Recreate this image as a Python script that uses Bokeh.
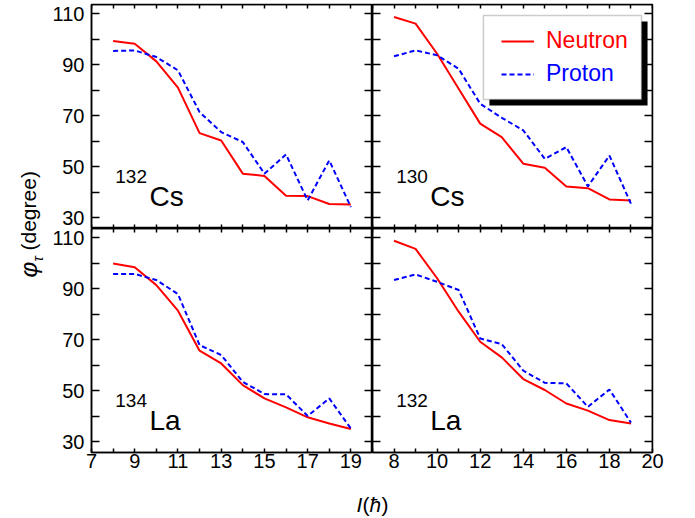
import math
from bokeh.plotting import figure
from bokeh.models import (Range1d, LinearAxis, FixedTicker, Label, Legend, LegendItem,
                          BoxAnnotation, CustomJSTickFormatter)
from bokeh.layouts import row, column
from bokeh.embed import file_html
from bokeh.resources import INLINE

# ---------------- data ----------------
spin = [8, 9, 10, 11, 12, 13, 14, 15, 16, 17, 18, 19]

cs132_neutron = [99.3, 98.2, 91.3, 81.0, 63.2, 60.3, 47.3, 46.4, 38.6, 38.5, 35.4, 35.2]
cs132_proton = [95.4, 95.6, 93.0, 87.8, 71.4, 63.6, 59.7, 47.3, 54.8, 36.8, 52.5, 34.2]

cs130_neutron = [108.7, 106.1, 94.3, 80.6, 66.9, 61.6, 51.2, 49.6, 42.3, 41.6, 37.2, 36.8]
cs130_proton = [93.3, 95.6, 93.7, 88.4, 74.7, 69.2, 64.3, 53.1, 57.7, 42.3, 54.4, 35.5]

la134_neutron = [99.9, 98.4, 91.4, 81.4, 65.7, 60.7, 52.2, 47.0, 43.5, 39.6, 37.2, 35.0]
la134_proton = [95.8, 95.8, 93.4, 87.9, 67.9, 64.0, 53.5, 48.7, 48.6, 40.1, 47.0, 35.2]

la132_neutron = [108.8, 105.6, 94.1, 81.0, 69.2, 63.1, 54.6, 50.3, 45.0, 42.2, 38.5, 37.2]
la132_proton = [93.4, 95.6, 92.7, 89.5, 70.5, 68.3, 57.9, 53.1, 52.9, 43.7, 50.5, 37.5]

y_ticks = [30, 50, 70, 90, 110]
y_minor = [40, 60, 80, 100]
x_ticks_left = [7, 9, 11, 13, 15, 17, 19]
x_minor_left = [8, 10, 12, 14, 16, 18, 20]
x_ticks_right = [8, 10, 12, 14, 16, 18, 20]
x_minor_right = [7, 9, 11, 13, 15, 17, 19]

series_names = ["Neutron", "Proton"]

# ---------------- style ----------------
FONT = "Liberation Sans"
XR = (7, 20)
YR = (25.8, 113.6)
RED = "#ff0000"
BLUE = "#0000ff"


def add_axis(p, side, loc, ticks, minor, tick_len, labelled, standoff=0):
    ax = LinearAxis(ticker=FixedTicker(ticks=ticks, minor_ticks=minor),
                    major_tick_in=tick_len, major_tick_out=0,
                    minor_tick_in=tick_len, minor_tick_out=0,
                    axis_line_color="black", axis_line_width=1.5,
                    major_tick_line_color="black", minor_tick_line_color="black",
                    major_tick_line_width=1.5, minor_tick_line_width=1.5,
                    major_label_text_font=FONT, major_label_text_font_size="20px",
                    major_label_text_color="black", major_label_standoff=standoff)
    if not labelled:
        ax.fixed_location = loc
        ax.formatter = CustomJSTickFormatter(code="return ''")
    p.add_layout(ax, side)


def make_panel(width, height, bl, br, bt, bb, left_col, bottom_row,
               neutron, proton, mass, sym):
    p = figure(width=width, height=height, x_range=Range1d(*XR), y_range=Range1d(*YR),
               x_axis_type=None, y_axis_type=None, toolbar_location=None,
               output_backend="svg",
               min_border_left=bl, min_border_right=br, min_border_top=bt,
               min_border_bottom=bb,
               outline_line_color="black", outline_line_width=1.5,
               background_fill_color="white", border_fill_color="white")
    xt, xm = (x_ticks_left, x_minor_left) if left_col else (x_ticks_right, x_minor_right)
    add_axis(p, "left", XR[0], y_ticks, y_minor, 8, left_col, standoff=7)
    add_axis(p, "right", XR[1], y_ticks, y_minor, 8, False)
    add_axis(p, "below", YR[0], xt, xm, 4, bottom_row, standoff=1)
    add_axis(p, "above", YR[1], xt, xm, 4, False)

    rn = p.line(spin, neutron, line_color=RED, line_width=2)
    rp = p.line(spin, proton, line_color=BLUE, line_width=2, line_dash="5 3")

    p.add_layout(Label(x=8.1, y=46.1, text=mass, text_font=FONT, text_font_size="19px",
                       text_color="black", text_align="left", text_baseline="alphabetic"))
    p.add_layout(Label(x=9.68, y=38.3, text=sym, text_font=FONT, text_font_size="28px",
                       text_color="black", text_align="left", text_baseline="alphabetic"))
    return p, rn, rp


tl, _, _ = make_panel(327, 228, 46, 0, 4, 0, True, False, cs132_neutron, cs132_proton, "132", "Cs")
tr, rn, rp = make_panel(323, 228, 0, 43, 4, 0, False, False, cs130_neutron, cs130_proton, "130", "Cs")
bl, _, _ = make_panel(327, 254, 46, 0, 0, 30, True, True, la134_neutron, la134_proton, "134", "La")
br, _, _ = make_panel(323, 254, 0, 43, 0, 30, False, True, la132_neutron, la132_proton, "132", "La")

# legend box with shadow
tr.add_layout(BoxAnnotation(left=12.43, right=19.77, top=106.94, bottom=74.0,
                            fill_color="black", fill_alpha=1.0, line_color="black", line_width=0))
tr.add_layout(BoxAnnotation(left=12.15, right=19.49, top=109.29, bottom=76.36,
                            fill_color="white", fill_alpha=1.0, line_color="#555555", line_width=1.5))

for rend, name, col, vy in [(rn, series_names[0], RED, 174), (rp, series_names[1], BLUE, 141)]:
    leg = Legend(items=[LegendItem(label=name, renderers=[rend])], location=(129, vy),
                 label_text_color=col, label_text_font=FONT, label_text_font_size="23px",
                 label_text_baseline="middle",
                 border_line_color=None, background_fill_alpha=0, padding=0, margin=0,
                 spacing=0, glyph_width=33, glyph_height=26, label_height=26,
                 label_standoff=12)
    tr.add_layout(leg)

# y-axis label figure
ylab = figure(width=45, height=518, x_range=Range1d(0, 45), y_range=Range1d(518, 0),
              x_axis_type=None, y_axis_type=None, toolbar_location=None, output_backend="svg",
              min_border_left=0, min_border_right=0, min_border_top=0, min_border_bottom=0,
              outline_line_color=None, background_fill_color="white", border_fill_color="white")
ylab.add_layout(Label(x=28, y=277, text="φ", angle=math.pi / 2, text_font=FONT,
                      text_font_style="italic", text_font_size="24px", text_color="black",
                      text_align="left", text_baseline="alphabetic"))
ylab.add_layout(Label(x=37, y=261, text="τ", angle=math.pi / 2, text_font=FONT,
                      text_font_style="italic", text_font_size="14px", text_color="black",
                      text_align="left", text_baseline="alphabetic"))
ylab.add_layout(Label(x=27.5, y=250, text="(degree)", angle=math.pi / 2, text_font=FONT,
                      text_font_size="21px", text_color="black",
                      text_align="left", text_baseline="alphabetic"))

# x-axis label figure
xlab = figure(width=650, height=36, x_range=Range1d(45, 695), y_range=Range1d(518, 482),
              x_axis_type=None, y_axis_type=None, toolbar_location=None, output_backend="svg",
              min_border_left=0, min_border_right=0, min_border_top=0, min_border_bottom=0,
              outline_line_color=None, background_fill_color="white", border_fill_color="white")
for txt, xx, style in [("I", 356, "italic"), ("(", 362, "normal"), ("ħ", 369, "italic"), (")", 381, "normal")]:
    xlab.add_layout(Label(x=xx, y=503.5, text=txt, text_font=FONT, text_font_style=style,
                          text_font_size="21px", text_color="black",
                          text_align="left", text_baseline="alphabetic"))

layout = row(ylab, column(row(tl, tr), row(bl, br), xlab))

open("out.html", "w").write(file_html(layout, INLINE))
